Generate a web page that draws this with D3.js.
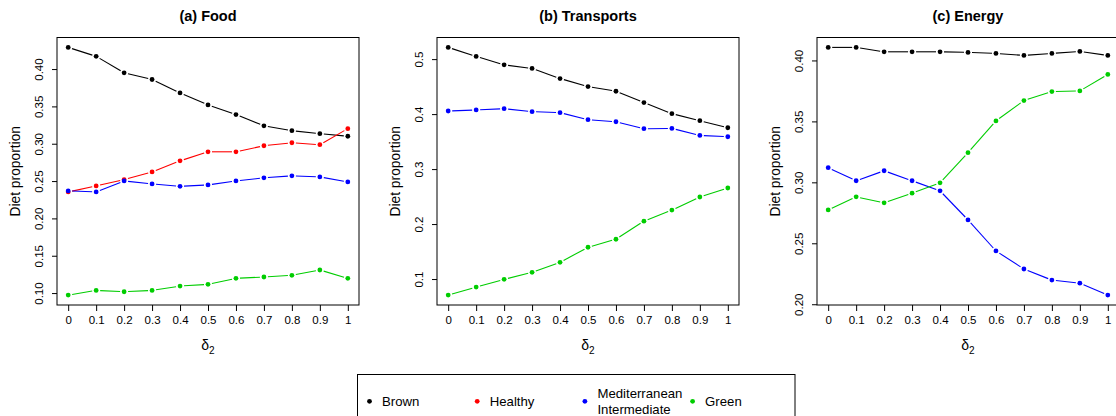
<!DOCTYPE html>
<html>
<head>
<meta charset="utf-8">
<script src="https://cdn.jsdelivr.net/npm/d3@7"></script>
<style>
  body { margin: 0; background: #fff; }
  svg { display: block; font-family: 'Liberation Sans', Arial, sans-serif; }
</style>
</head>
<body>
<svg id="chart" width="1116" height="416"></svg>
<script>
// x values (delta_2)
const deltaValues = [0, 0.1, 0.2, 0.3, 0.4, 0.5, 0.6, 0.7, 0.8, 0.9, 1];
const xTickLabels = ['0', '0.1', '0.2', '0.3', '0.4', '0.5', '0.6', '0.7', '0.8', '0.9', '1'];

// (a) Food
const foodBrown = [0.429, 0.417, 0.395, 0.386, 0.368, 0.352, 0.339, 0.324, 0.3175, 0.3135, 0.310];
const foodHealthy = [0.2354, 0.2435, 0.252, 0.2623, 0.2771, 0.2892, 0.2892, 0.2973, 0.3013, 0.2987, 0.3202];
const foodMedInt = [0.2368, 0.2354, 0.2502, 0.2462, 0.2430, 0.2448, 0.2502, 0.2543, 0.2570, 0.2556, 0.2489];
const foodGreen = [0.0973, 0.1036, 0.1018, 0.1036, 0.1094, 0.1117, 0.1197, 0.1215, 0.1238, 0.1309, 0.1197];
const foodTicks = [0.10, 0.15, 0.20, 0.25, 0.30, 0.35, 0.40];

// (b) Transports
const transportBrown = [0.5213, 0.5049, 0.4896, 0.483, 0.4647, 0.4501, 0.4416, 0.4209, 0.4008, 0.388, 0.3752];
const transportMedInt = [0.4056, 0.4075, 0.4099, 0.4044, 0.4026, 0.3898, 0.3861, 0.3734, 0.374, 0.3612, 0.3588];
const transportGreen = [0.0708, 0.0854, 0.0994, 0.1122, 0.1304, 0.1578, 0.1724, 0.2053, 0.2254, 0.2492, 0.2656];
const transportTicks = [0.1, 0.2, 0.3, 0.4, 0.5];

// (c) Energy
const energyBrown = [0.4107, 0.4107, 0.4071, 0.4071, 0.4071, 0.4066, 0.4058, 0.4041, 0.4058, 0.4074, 0.4041];
const energyMedInt = [0.312, 0.3013, 0.3095, 0.3013, 0.293, 0.2692, 0.2437, 0.2289, 0.2198, 0.2173, 0.2075];
const energyGreen = [0.2774, 0.2881, 0.2832, 0.2911, 0.2996, 0.3243, 0.3504, 0.3671, 0.3745, 0.375, 0.3885];
const energyTicks = [0.20, 0.25, 0.30, 0.35, 0.40];

const dietNames = ['Brown', 'Healthy', 'Mediterranean\nIntermediate', 'Green'];
const dietColors = ['#000000', '#ff0000', '#0000ff', '#00cd00'];

const panels = [
  {
    title: '(a) Food',
    ticks: foodTicks,
    digits: 2,
    series: [
      { diet: 0, values: foodBrown },
      { diet: 1, values: foodHealthy },
      { diet: 2, values: foodMedInt },
      { diet: 3, values: foodGreen },
    ],
  },
  {
    title: '(b) Transports',
    ticks: transportTicks,
    digits: 1,
    series: [
      { diet: 0, values: transportBrown },
      { diet: 2, values: transportMedInt },
      { diet: 3, values: transportGreen },
    ],
  },
  {
    title: '(c) Energy',
    ticks: energyTicks,
    digits: 2,
    series: [
      { diet: 0, values: energyBrown },
      { diet: 2, values: energyMedInt },
      { diet: 3, values: energyGreen },
    ],
  },
];

const svg = d3.select('#chart');
const box = { left: 57, width: 302, top: 37.5, bottom: 305, step: 380 };
const gap = 4; // gap between line and point, like R type="b"

// R style 4% range extension
function padExtent(ext) {
  const d = (ext[1] - ext[0]) * 0.04;
  return [ext[0] - d, ext[1] + d];
}

function drawPanel(panel, i) {
  const x0 = box.left + i * box.step;
  const xScale = d3.scaleLinear()
    .domain(padExtent(d3.extent(deltaValues)))
    .range([x0, x0 + box.width]);

  const allY = [].concat.apply([], panel.series.map(s => s.values));
  const yScale = d3.scaleLinear()
    .domain(padExtent(d3.extent(allY)))
    .range([box.bottom, box.top]);

  const g = svg.append('g').attr('class', 'panel');

  // title
  g.append('text')
    .attr('x', x0 + box.width / 2)
    .attr('y', 21)
    .attr('text-anchor', 'middle')
    .attr('font-weight', 'bold')
    .attr('font-size', 14.5)
    .text(panel.title);

  // x axis
  const xAxis = d3.axisBottom(xScale)
    .tickValues(deltaValues)
    .tickFormat((d, k) => xTickLabels[k])
    .tickSize(6)
    .tickPadding(5)
    .tickSizeOuter(0);
  const xg = g.append('g')
    .attr('transform', `translate(0,${box.bottom})`)
    .call(xAxis);
  xg.select('.domain').remove();
  xg.selectAll('text').attr('font-size', 11.5).attr('fill', '#000').attr('font-family', null);
  xg.selectAll('line').attr('stroke', '#000');

  // y axis
  const yAxis = d3.axisLeft(yScale)
    .tickValues(panel.ticks)
    .tickFormat(d3.format(`.${panel.digits}f`))
    .tickSize(5)
    .tickSizeOuter(0);
  const yg = g.append('g')
    .attr('transform', `translate(${x0},0)`)
    .call(yAxis);
  yg.select('.domain').remove();
  yg.selectAll('line').attr('stroke', '#000');
  yg.selectAll('text')
    .attr('font-size', 11.5)
    .attr('fill', '#000')
    .attr('font-family', null)
    .attr('x', null)
    .attr('dy', null)
    .attr('text-anchor', 'middle')
    .attr('transform', 'translate(-14,0) rotate(-90)');

  // box
  g.append('rect')
    .attr('x', xScale.range()[0])
    .attr('y', box.top)
    .attr('width', box.width)
    .attr('height', box.bottom - box.top)
    .attr('fill', 'none')
    .attr('stroke', '#000')
    .attr('stroke-width', 1);

  // axis titles
  g.append('text')
    .attr('transform', `translate(${x0 - 37},${(box.top + box.bottom) / 2}) rotate(-90)`)
    .attr('text-anchor', 'middle')
    .attr('font-size', 13.8)
    .text('Diet proportion');

  const xl = g.append('text')
    .attr('x', x0 + box.width / 2)
    .attr('y', 350)
    .attr('text-anchor', 'middle')
    .attr('font-size', 14);
  xl.append('tspan').text('δ');
  xl.append('tspan').attr('font-size', 10).attr('dy', 4).text('2');

  // series
  panel.series.forEach(s => {
    const pts = s.values.map((v, k) => [xScale(deltaValues[k]), yScale(v)]);
    const color = dietColors[s.diet];
    const segs = d3.pairs(pts).filter(([a, b]) => Math.hypot(b[0] - a[0], b[1] - a[1]) > 2 * gap);

    g.append('g')
      .selectAll('line')
      .data(segs)
      .enter()
      .append('line')
      .each(function([a, b]) {
        const len = Math.hypot(b[0] - a[0], b[1] - a[1]);
        const ux = (b[0] - a[0]) / len;
        const uy = (b[1] - a[1]) / len;
        d3.select(this)
          .attr('x1', a[0] + ux * gap)
          .attr('y1', a[1] + uy * gap)
          .attr('x2', b[0] - ux * gap)
          .attr('y2', b[1] - uy * gap);
      })
      .attr('stroke', color)
      .attr('stroke-width', 1.1);

    g.append('g')
      .selectAll('circle')
      .data(pts)
      .enter()
      .append('circle')
      .attr('cx', d => d[0])
      .attr('cy', d => d[1])
      .attr('r', 2.4)
      .attr('fill', color);
  });
}

panels.forEach(drawPanel);

// legend
const legendX = 357.5;
const legendTop = 374.5;
const legendStep = 107.7;
const legend = svg.append('g').attr('class', 'legend');
legend.append('rect')
  .attr('x', legendX)
  .attr('y', legendTop)
  .attr('width', 437.5)
  .attr('height', 60)
  .attr('fill', 'none')
  .attr('stroke', '#000');

const items = legend.selectAll('.item')
  .data(dietNames)
  .enter()
  .append('g')
  .attr('class', 'item')
  .attr('transform', (d, k) => `translate(${legendX + 12 + k * legendStep},401.3)`);

items.append('circle').attr('r', 2.4).attr('fill', (d, k) => dietColors[k]);

items.append('text')
  .attr('x', 12.5)
  .attr('font-size', 13.2)
  .each(function(d) {
    const lines = d.split('\n');
    const t = d3.select(this);
    lines.forEach((line, j) => {
      t.append('tspan')
        .attr('x', 12.5)
        .attr('y', 4.7 + (j - (lines.length - 1) / 2) * 16)
        .text(line);
    });
  });
</script>
</body>
</html>
